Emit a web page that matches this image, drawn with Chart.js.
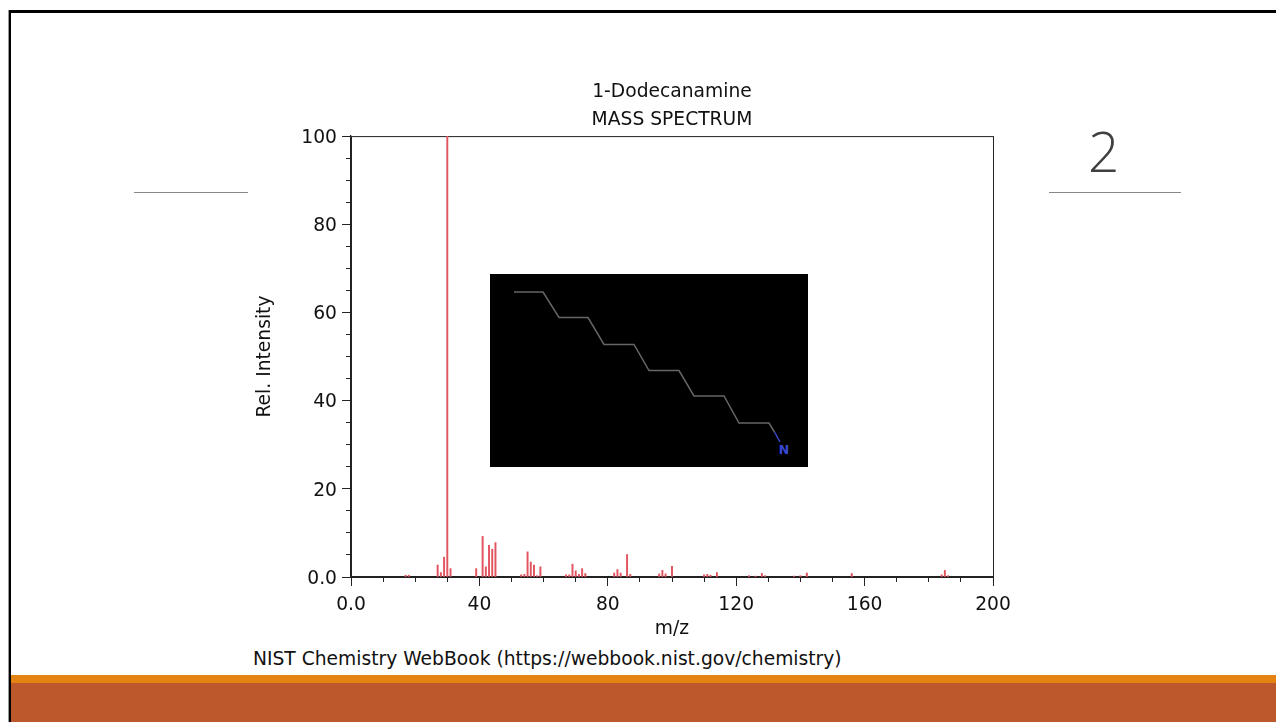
<!DOCTYPE html>
<html>
<head>
<meta charset="utf-8">
<title>1-Dodecanamine</title>
<script src="https://cdn.jsdelivr.net/npm/chart.js@4"></script>
<style>
html, body { margin: 0; padding: 0; background: #fff; }
#page { position: relative; width: 1276px; height: 722px; overflow: hidden; background: #fff; font-family: "DejaVu Sans", sans-serif; color: #111; }
#band1 { position: absolute; left: 8px; right: 0; top: 675px; height: 8px; background: #e48312; }
#band2 { position: absolute; left: 8px; right: 0; top: 683px; height: 39px; background: #bd582c; }
#frame { position: absolute; left: 9px; top: 10px; width: 1280px; height: 720px; border: solid #000; border-width: 3px 0 0 2px; box-sizing: border-box; box-shadow: -1px 0 0 #999; }
.rule { position: absolute; top: 192px; height: 1px; background: #888; }
#num { position: absolute; left: 1088px; top: 111px; font: 300 55px/80px "Open Sans", sans-serif; color: #404040; }
#source { position: absolute; left: 253px; top: 648px; font-size: 18.7px; line-height: 22px; white-space: nowrap; }
#chart { position: absolute; left: 0; top: 0; }
#mol { position: absolute; left: 490px; top: 274px; }
</style>
</head>
<body>
<div id="page">
    <div id="band1"></div>
    <div id="band2"></div>
    <div id="frame"></div>
    <div class="rule" style="left:134px;width:114px"></div>
    <div class="rule" style="left:1049px;width:132px"></div>
    <div id="num">2</div>
    <div id="source">NIST Chemistry WebBook (https://webbook.nist.gov/chemistry)</div>
    <canvas id="chart" width="1276" height="722"></canvas>
    <svg id="mol" width="318" height="193" viewBox="0 0 318 193">
        <rect width="318" height="193" fill="#000"/>
        <polyline fill="none" stroke="#666" stroke-width="1.5" points="24,18 53,18 69,43.5 98,43.5 114,70.5 144,70.5 159,96.5 189,96.5 204,122 234,122 249,149 279,149 284.5,158"/>
        <line x1="284.5" y1="158" x2="290" y2="168" stroke="#3a48c8" stroke-width="1.5"/>
        <text x="294" y="180" fill="#3a48d8" font-family="DejaVu Sans" font-weight="bold" font-size="12.5" text-anchor="middle">N</text>
    </svg>
</div>
<script>
'use strict'
let mz = [17, 18, 27, 28, 29, 30, 31, 39, 41, 42, 43, 44, 45, 53, 54, 55, 56, 57, 58, 59,
        67, 68, 69, 70, 71, 72, 73, 82, 83, 84, 86, 87, 96, 97, 98, 100,
        110, 111, 112, 114, 124, 126, 128, 129, 138, 140, 142, 156, 184, 185, 186],
    intensity = [0.4, 0.4, 2.7, 1.0, 4.5, 100, 1.9, 1.9, 9.2, 2.3, 7.2, 6.3, 7.8, 0.5, 0.6, 5.7, 3.4, 2.7, 0.3, 2.3,
        0.5, 0.5, 2.9, 1.4, 0.6, 1.9, 0.8, 0.9, 1.7, 0.9, 5.1, 0.6, 0.7, 1.5, 0.7, 2.4,
        0.5, 0.6, 0.4, 1.0, 0.3, 0.2, 0.8, 0.3, 0.2, 0.3, 0.9, 0.8, 0.5, 1.5, 0.3],
    titleLines = ['1-Dodecanamine', 'MASS SPECTRUM'],
    xTitle = 'm/z',
    yTitle = 'Rel. Intensity'

let axisColor = '#222'
let labelFont = {family: 'DejaVu Sans', size: 18.7}

// top and right spines
let boxPlugin = {
    id: 'box',
    beforeDatasetsDraw(chart) {
        let a = chart.chartArea, c = chart.ctx
        c.save()
        c.strokeStyle = axisColor
        c.lineWidth = 1
        c.strokeRect(a.left + 0.5, a.top + 0.5, a.width, a.height)
        c.restore()
    }
}

let tickLabel = function (v) {
    return v === 0 ? '0.0' : String(v)
}

let config = {
    type: 'bar',
    data: {
        datasets: [{
            data: mz.map((m, i) => ({x: m, y: intensity[i]})),
            backgroundColor: '#e25560',
            barThickness: 1.3,
            xAxisID: 'x',
            yAxisID: 'y'
        }]
    },
    options: {
        responsive: false,
        animation: false,
        layout: {padding: {left: 254, right: 283, top: 78, bottom: 82}},
        plugins: {
            legend: {display: false},
            tooltip: {enabled: false},
            title: {
                display: true,
                text: titleLines,
                fullSize: false,
                font: {family: 'DejaVu Sans', size: 18.7, weight: 'normal', lineHeight: 1.5},
                color: '#111',
                padding: {top: 0, bottom: 2}
            }
        },
        scales: {
            x: {
                type: 'linear', position: 'bottom', weight: 2, min: 0, max: 200, offset: false,
                afterFit(s) { s.height = 63 },
                border: {color: axisColor, width: 1.3},
                grid: {offset: false, drawOnChartArea: false, tickLength: 9, tickColor: axisColor},
                ticks: {stepSize: 40, maxRotation: 0, autoSkip: false, padding: 8, color: '#111', font: labelFont, callback: tickLabel},
                title: {display: true, text: xTitle, color: '#111', font: labelFont, padding: 0}
            },
            xMinor: {
                type: 'linear', position: 'bottom', weight: 1, min: 0, max: 200, offset: false,
                afterFit(s) { s.height = 0 },
                border: {display: false},
                grid: {offset: false, drawOnChartArea: false, tickLength: 5, tickColor: axisColor},
                ticks: {stepSize: 10, autoSkip: false, display: false}
            },
            y: {
                type: 'linear', position: 'left', weight: 2, min: 0, max: 100,
                afterFit(s) { s.width = 97 },
                border: {color: axisColor, width: 1.3},
                grid: {drawOnChartArea: false, tickLength: 9, tickColor: axisColor},
                ticks: {stepSize: 20, autoSkip: false, padding: 5, labelOffset: 2, color: '#111', font: labelFont, callback: tickLabel},
                title: {display: true, text: yTitle, color: '#111', font: labelFont, padding: 0}
            },
            yMinor: {
                type: 'linear', position: 'left', weight: 1, min: 0, max: 100,
                afterFit(s) { s.width = 0 },
                border: {display: false},
                grid: {drawOnChartArea: false, tickLength: 5, tickColor: axisColor},
                ticks: {stepSize: 5, autoSkip: false, display: false}
            }
        }
    },
    plugins: [boxPlugin]
}

let myChart = new Chart(document.getElementById('chart'), config)
</script>
</body>
</html>
